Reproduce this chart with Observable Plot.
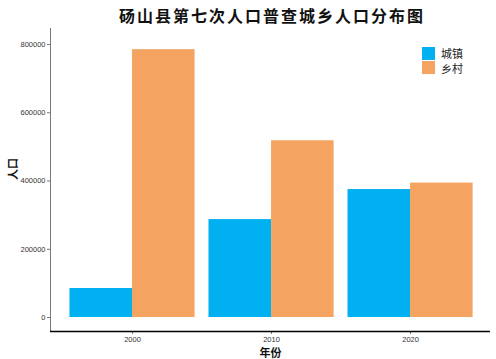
<!DOCTYPE html>
<html>
<head>
<meta charset="utf-8">
<script src="https://cdn.jsdelivr.net/npm/d3@7"></script>
<script src="https://cdn.jsdelivr.net/npm/@observablehq/plot@0.6"></script>
<style>
  html, body { margin: 0; padding: 0; background: #fff; }
  #wrap { position: relative; width: 496px; height: 359px; overflow: hidden; }
  #title { position: absolute; left: 0; top: 5px; width: 496px; padding-left: 48px; box-sizing: border-box; text-align: center;
    font-family: "Noto Sans CJK SC", sans-serif; font-weight: bold; font-size: 16px; letter-spacing: 2px; color: #111; line-height: 20px; }
  #legend { position: absolute; left: 422px; top: 46px; font-family: "Noto Sans CJK SC", sans-serif; font-size: 11px; color: #222; }
  .li { display: flex; align-items: center; height: 14.5px; }
  .sw { width: 13px; height: 13px; margin-right: 6px; }
</style>
</head>
<body>
<div id="wrap">
  <div id="title"></div>
  <div id="chart"></div>
  <div id="legend"></div>
</div>
<script>
const titleText = "砀山县第七次人口普查城乡人口分布图";
const years = [2000, 2010, 2020];
const series = ["城镇", "乡村"];
const urban = [85000, 287000, 375000];
const rural = [785000, 518000, 394000];
const colors = ["#00B0F0", "#F4A460"];
const yTicks = [0, 200000, 400000, 600000, 800000];
const xLabel = "年份";
const yLabel = "人口";

document.getElementById("title").textContent = titleText;

const data = [];
years.forEach((y, i) => {
  data.push({year: y, type: series[0], value: urban[i]});
  data.push({year: y, type: series[1], value: rural[i]});
});

const dodge = 9; // total dodge width in years (ggplot width 0.9 * 10)
const half = dodge / 2;
const xDomain = [1994.1, 2025.75];
const yDomain = [-41000, 847000];

const chart = Plot.plot({
  width: 496,
  height: 359,
  marginLeft: 50,
  marginRight: 6,
  marginTop: 28,
  marginBottom: 28,
  style: {fontFamily: "Liberation Sans, Arial, sans-serif", background: "#fff"},
  x: {domain: xDomain, ticks: years, tickFormat: d => String(d), label: null},
  y: {domain: yDomain, ticks: yTicks, tickFormat: d3.format("d"), label: null},
  color: {domain: series, range: colors},
  marks: [
    Plot.rectY(data, {
      x1: d => d.type === series[0] ? d.year - half : d.year,
      x2: d => d.type === series[0] ? d.year : d.year + half,
      y1: 0, y2: "value", fill: "type"
    }),
    Plot.axisY({ticks: yTicks, tickFormat: d3.format("d"), tickSize: 3, tickPadding: 2, fontSize: 7.5, color: "#333", stroke: "#777", label: null}),
    Plot.axisX({ticks: years, tickFormat: d => String(d), tickSize: 3, tickPadding: 2, fontSize: 7.5, color: "#333", stroke: "#777", label: null}),
    Plot.ruleX([xDomain[0]], {stroke: "#777", strokeWidth: 1}),
    Plot.ruleY([yDomain[0]], {stroke: "#000", strokeWidth: 1.3}),
    Plot.text([xLabel], {frameAnchor: "bottom", dy: 25, fontSize: 11, fontWeight: "bold", fill: "#111", fontFamily: "Noto Sans CJK SC"}),
    Plot.text([yLabel], {frameAnchor: "left", dx: -37, rotate: -90, fontSize: 11, fontWeight: "bold", fill: "#111", fontFamily: "Noto Sans CJK SC"})
  ]
});
document.getElementById("chart").appendChild(chart);

const legend = document.getElementById("legend");
series.forEach((s, i) => {
  const row = document.createElement("div");
  row.className = "li";
  const sw = document.createElement("div");
  sw.className = "sw";
  sw.style.background = colors[i];
  const t = document.createElement("span");
  t.textContent = s;
  row.appendChild(sw);
  row.appendChild(t);
  legend.appendChild(row);
});
</script>
</body>
</html>
